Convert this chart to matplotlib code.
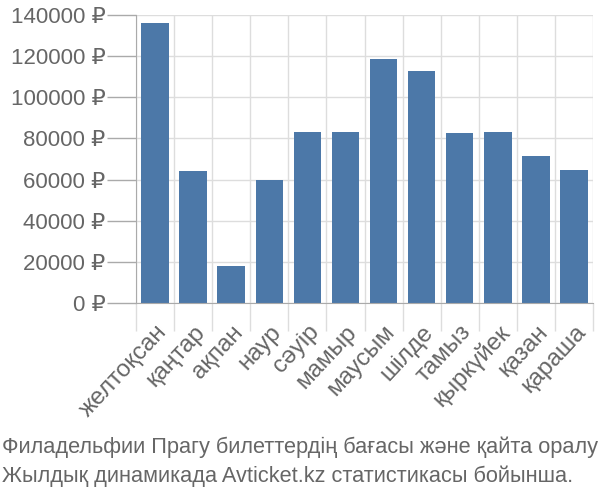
import matplotlib
matplotlib.use("Agg")
import matplotlib.pyplot as plt
import numpy as np

months = ["желтоқсан", "қаңтар", "ақпан", "наур", "сәуір", "мамыр",
          "маусым", "шілде", "тамыз", "қыркүйек", "қазан", "қараша"]
prices = [136000, 64000, 18000, 60000, 83000, 83000,
          118500, 113000, 82500, 83000, 71500, 64500]
yticks = [0, 20000, 40000, 60000, 80000, 100000, 120000, 140000]
caption = ["Филадельфии Прагу билеттердің бағасы және қайта оралу",
           "Жылдық динамикада Avticket.kz статистикасы бойынша."]

plt.rcParams['font.family'] = ['Liberation Sans', 'DejaVu Sans']
txt = '#666666'

fig = plt.figure(figsize=(6, 5), dpi=100)
ax = fig.add_axes([136/600, 1-303/500, (593-136)/600, 288/500])

x = np.arange(len(months))
ax.bar(x, prices, width=0.72, color='#4c78a8', zorder=3)

ax.set_xlim(-0.5, len(months)-0.5)
ax.set_ylim(0, 140000)
ax.set_yticks(yticks)
ax.set_yticklabels([f"{v} ₽" for v in yticks], color=txt, fontsize=16)
ax.set_xticks(x)
ax.set_xticklabels(months, rotation=47, ha='right', rotation_mode='anchor',
                   color=txt, fontsize=17.5)
ax.set_xticks(np.arange(-0.5, len(months), 1), minor=True)

ax.tick_params(axis='x', which='major', length=0, pad=13)
ax.tick_params(axis='x', which='minor', length=20, color='#dddddd', width=1)
ax.tick_params(axis='y', length=21, color='#aaaaaa', width=1, pad=1)

ax.grid(True, axis='y', color='#dddddd', linewidth=1, zorder=0)
ax.grid(True, axis='x', which='minor', color='#dddddd', linewidth=1, zorder=0)
ax.grid(False, axis='x', which='major')

for s in ['top', 'right']:
    ax.spines[s].set_visible(False)
ax.spines['left'].set_color('#aaaaaa')
ax.spines['bottom'].set_color('#aaaaaa')
ax.spines['left'].set_zorder(4)
ax.spines['bottom'].set_zorder(4)

fig.text(2/600, 1-447/500, caption[0], color=txt, fontsize=15.7, va='center', ha='left')
fig.text(2/600, 1-476/500, caption[1], color=txt, fontsize=15.7, va='center', ha='left')

fig.savefig("out.png", dpi=100)
